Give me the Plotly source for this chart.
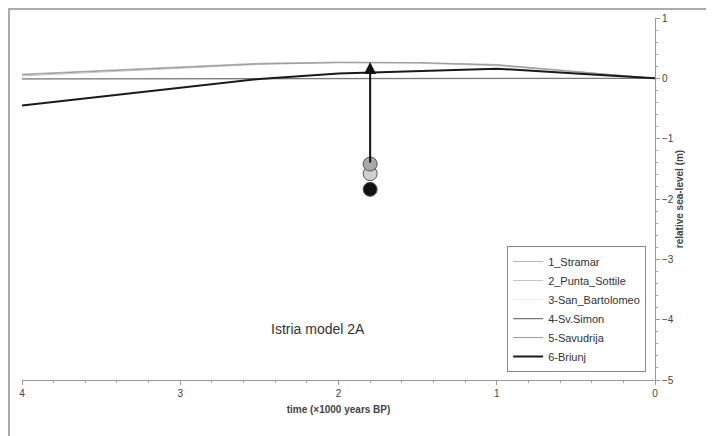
import plotly.graph_objects as go

# time axis (x1000 years BP) and modelled relative sea-level curves (m)
time_kbp = [4, 3.5, 3, 2.5, 2, 1.5, 1, 0.5, 0]
stramar = [0.07, 0.13, 0.19, 0.25, 0.27, 0.26, 0.23, 0.12, 0]
punta_sottile = [0.04, 0.10, 0.16, 0.23, 0.26, 0.25, 0.21, 0.11, 0]
san_bartolomeo = [-0.02, -0.02, -0.02, -0.02, -0.02, -0.02, -0.02, -0.01, 0]
sv_simon = [-0.01, -0.01, -0.01, -0.01, -0.01, -0.01, -0.01, -0.01, 0]
savudrija = [0.06, 0.12, 0.18, 0.24, 0.26, 0.26, 0.22, 0.11, 0]
briunj = [-0.45, -0.30, -0.15, -0.01, 0.08, 0.12, 0.16, 0.08, 0]

series_names = ["1_Stramar", "2_Punta_Sottile", "3-San_Bartolomeo",
                "4-Sv.Simon", "5-Savudrija", "6-Briunj"]
series_vals = [stramar, punta_sottile, san_bartolomeo, sv_simon, savudrija, briunj]
series_color = ["#b4b4b4", "#c4c4c4", "#ececec", "#7a7a7a", "#9a9a9a", "#1a1a1a"]
series_width = [1, 1, 1, 1.2, 1, 2]

# observed indicators at ~1.8 ka
obs_time = [1.8, 1.8, 1.8]
obs_level = [-1.58, -1.42, -1.84]
obs_color = ["#cfcfcf", "#a8a8a8", "#111111"]
arrow_top = 0.27

fig = go.Figure()
for name, vals, col, w in zip(series_names, series_vals, series_color, series_width):
    fig.add_trace(go.Scatter(x=time_kbp, y=vals, mode="lines", name=name,
                             line=dict(color=col, width=w)))

fig.add_trace(go.Scatter(x=obs_time, y=obs_level, mode="markers", showlegend=False,
                         marker=dict(size=14, color=obs_color,
                                     line=dict(color="#555", width=1))))

fig.add_annotation(x=obs_time[1], y=arrow_top, ax=obs_time[1], ay=obs_level[1],
                   xref="x", yref="y", axref="x", ayref="y", text="",
                   showarrow=True, arrowhead=2, arrowsize=1.2, arrowwidth=2,
                   arrowcolor="#111")
fig.add_annotation(x=2.13, y=-4.16, text="Istria model 2A", showarrow=False,
                   font=dict(size=14, color="#333", family="Arial"))

# outer frame around the whole chart (page body adds an 8px offset)
fig.add_shape(type="rect", xref="paper", yref="paper",
              x0=-0.0205, x1=1.09, y0=-0.16, y1=1.025,
              line=dict(color="#ababab", width=2))

fig.update_xaxes(range=[4, 0], showline=True, linecolor="#999", linewidth=1,
                 ticks="outside", ticklen=4, tickcolor="#999", dtick=1,
                 minor=dict(dtick=0.2, ticks="outside", ticklen=2, tickcolor="#aaa"),
                 showgrid=False, zeroline=False, automargin=False,
                 tickfont=dict(size=10, color="#444", family="Arial"),
                 title=dict(text="<b>time (×1000 years BP)</b>", standoff=7,
                            font=dict(size=10, color="#444", family="Arial")))
fig.update_yaxes(range=[-5, 1], side="right", showline=True, linecolor="#999",
                 linewidth=1, ticks="outside", ticklen=4, tickcolor="#999", dtick=1,
                 minor=dict(dtick=0.2, ticks="outside", ticklen=2, tickcolor="#aaa"),
                 showgrid=False, zeroline=False, automargin=False,
                 tickfont=dict(size=10, color="#444", family="Arial"),
                 title=dict(text="<b>relative sea-level (m)</b>", standoff=2,
                            font=dict(size=10, color="#444", family="Arial")))

fig.update_layout(width=714, height=436, plot_bgcolor="white", paper_bgcolor="white",
                  margin=dict(l=14, r=67, t=10, b=64),
                  font=dict(family="Arial"),
                  legend=dict(x=0.986, y=0.022, xanchor="right", yanchor="bottom",
                              bordercolor="#888", borderwidth=1, bgcolor="white",
                              font=dict(size=11, color="#333", family="Arial"),
                              tracegroupgap=0))

fig.write_html("out.html")
